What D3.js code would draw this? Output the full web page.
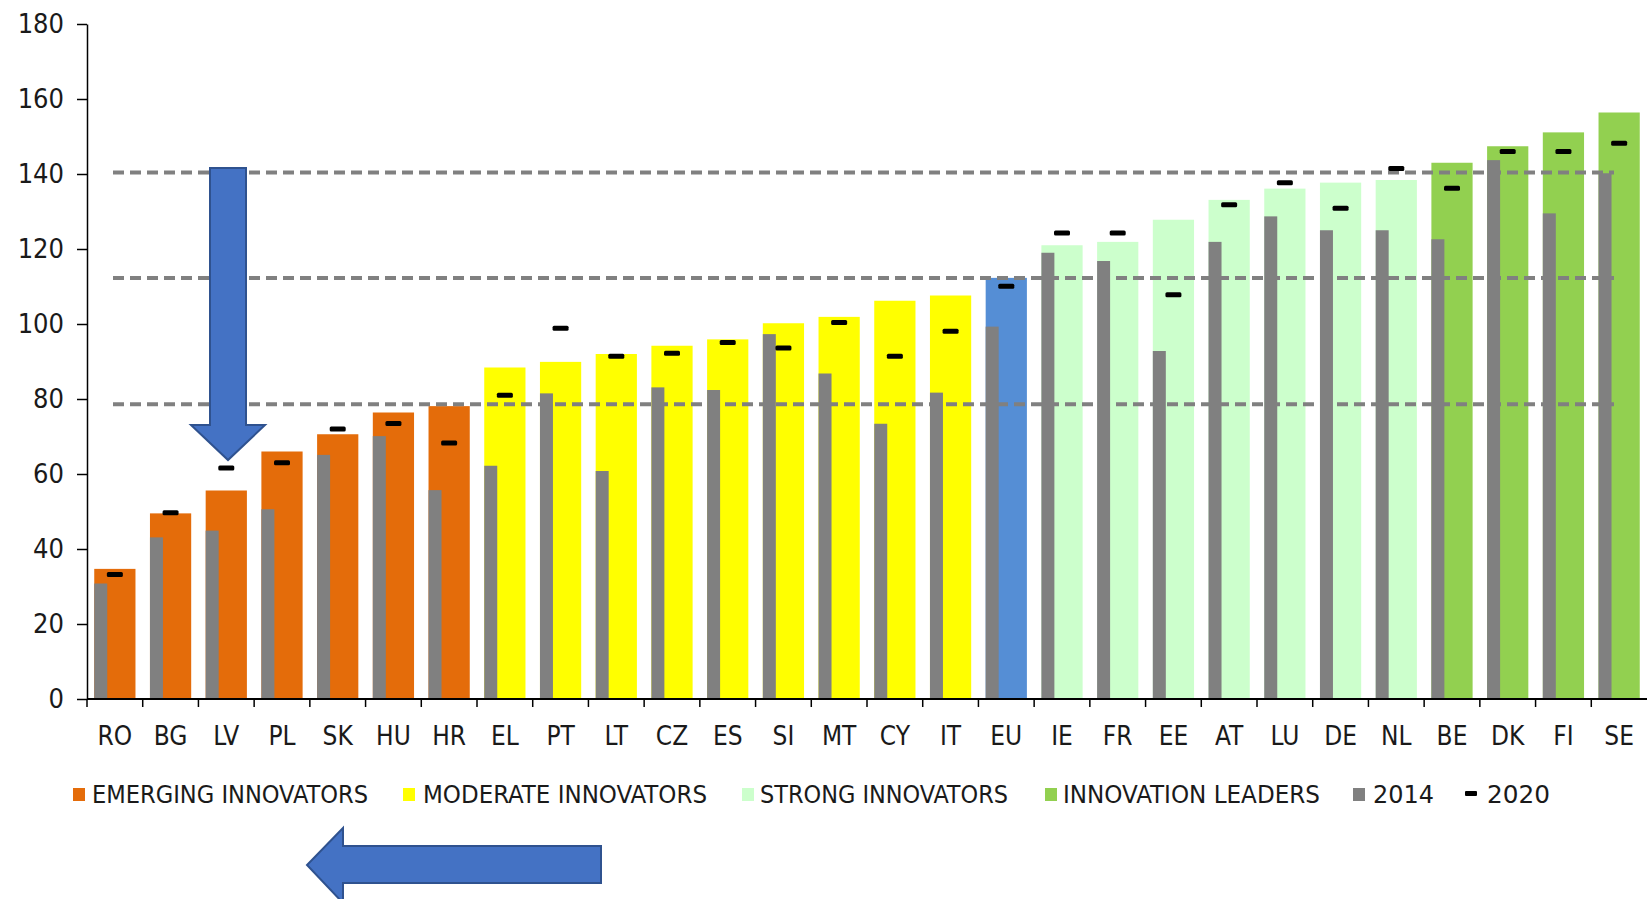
<!DOCTYPE html>
<html lang="en">

<head>
  <meta charset="UTF-8">
  <title>Innovation scores</title>
  <style>
    body { margin: 0; background: #fff; }
    text { font-family: "DejaVu Sans Condensed", "DejaVu Sans", sans-serif; fill: #1a1a1a; }
  </style>
</head>

<body>
  <svg id="svg" width="1647" height="899"></svg>

  <script src="https://d3js.org/d3.v7.min.js"></script>
  <script>
    const countries = ["RO", "BG", "LV", "PL", "SK", "HU", "HR", "EL", "PT", "LT", "CZ", "ES", "SI", "MT",
      "CY", "IT", "EU", "IE", "FR", "EE", "AT", "LU", "DE", "NL", "BE", "DK", "FI", "SE"]
    const groups = ["emerging", "emerging", "emerging", "emerging", "emerging", "emerging", "emerging",
      "moderate", "moderate", "moderate", "moderate", "moderate", "moderate", "moderate", "moderate", "moderate",
      "eu", "strong", "strong", "strong", "strong", "strong", "strong", "strong",
      "leader", "leader", "leader", "leader"]
    const score2021 = [34.7, 49.5, 55.6, 66.0, 70.6, 76.4, 78.1, 88.4, 89.9, 92.0, 94.2, 95.9, 100.2, 101.9,
      106.2, 107.6, 112.3, 121.0, 121.9, 127.8, 133.1, 136.1, 137.7, 138.4, 143.0, 147.4, 151.1, 156.4]
    const score2014 = [30.8, 43.1, 44.9, 50.6, 65.1, 70.1, 55.7, 62.2, 81.5, 60.8, 83.1, 82.4, 97.3, 86.8,
      73.4, 81.7, 99.3, 119.0, 116.8, 92.8, 121.9, 128.7, 125.0, 125.0, 122.6, 143.7, 129.5, 140.2]
    const score2020 = [33.2, 49.7, 61.6, 63.0, 72.0, 73.5, 68.3, 81.0, 98.9, 91.4, 92.2, 95.1, 93.6, 100.4,
      91.4, 98.1, 110.1, 124.3, 124.3, 107.8, 131.8, 137.7, 130.9, 141.5, 136.2, 146.0, 146.0, 148.2]
    const thresholds = [78.6, 112.3, 140.4]
    const yTicks = [0, 20, 40, 60, 80, 100, 120, 140, 160, 180]

    const groupNames = ["emerging", "moderate", "strong", "leader", "eu"]
    const groupColors = ["#e46c0a", "#ffff00", "#ccffcc", "#92d050", "#558ed5"]
    const legendLabels = ["EMERGING INNOVATORS", "MODERATE INNOVATORS", "STRONG INNOVATORS", "INNOVATION LEADERS", "2014", "2020"]

    const data = countries.map((c, i) => ({
      country: c, group: groups[i], v21: score2021[i], v14: score2014[i], v20: score2020[i]
    }))

    const svg = d3.select("#svg")
    const plotLeft = 87, plotRight = 1647, plotTop = 24, plotBottom = 699

    const xScale = d3.scaleBand()
      .domain(countries)
      .range([plotLeft, plotRight])
      .paddingInner(0.26)
      .paddingOuter(0.13)

    const yScale = d3.scaleLinear()
      .domain([0, 180])
      .range([plotBottom, plotTop])

    const colorScale = d3.scaleOrdinal()
      .domain(groupNames)
      .range(groupColors)

    // main bars
    svg.append("g").selectAll("rect")
      .data(data)
      .enter()
      .append("rect")
      .attr("x", d => xScale(d.country))
      .attr("y", d => yScale(d.v21))
      .attr("width", xScale.bandwidth())
      .attr("height", d => yScale(0) - yScale(d.v21))
      .attr("fill", d => colorScale(d.group))

    // 2014 thin bars
    svg.append("g").selectAll("rect")
      .data(data)
      .enter()
      .append("rect")
      .attr("x", d => xScale(d.country))
      .attr("y", d => yScale(d.v14))
      .attr("width", 13)
      .attr("height", d => yScale(0) - yScale(d.v14))
      .attr("fill", "#808080")

    // threshold lines
    svg.append("g").selectAll("line")
      .data(thresholds)
      .enter()
      .append("line")
      .attr("x1", 113)
      .attr("x2", 1614)
      .attr("y1", d => yScale(d))
      .attr("y2", d => yScale(d))
      .attr("stroke", "#808080")
      .attr("stroke-width", 4)
      .attr("stroke-dasharray", "11,6")

    // 2020 markers
    svg.append("g").selectAll("rect")
      .data(data)
      .enter()
      .append("rect")
      .attr("x", d => xScale(d.country) + xScale.bandwidth() / 2 - 8)
      .attr("y", d => yScale(d.v20) - 2.5)
      .attr("width", 16)
      .attr("height", 5)
      .attr("rx", 1.5)
      .attr("fill", "#000")

    // y axis
    const yAxis = svg.append("g")
      .attr("transform", `translate(${plotLeft},0)`)
      .call(d3.axisLeft(yScale).tickValues(yTicks).tickSize(10).tickSizeOuter(0).tickPadding(13))
    yAxis.select(".domain").attr("stroke", "#000").attr("stroke-width", 1.5)
    yAxis.selectAll(".tick line").attr("stroke", "#000").attr("stroke-width", 1.5)
    yAxis.selectAll(".tick text")
      .style("font-size", "27px")
      .style("font-family", "'DejaVu Sans Condensed', sans-serif")
      .attr("fill", "#1a1a1a")

    // x axis
    const xg = svg.append("g")
    xg.append("line")
      .attr("x1", plotLeft).attr("x2", plotRight)
      .attr("y1", plotBottom).attr("y2", plotBottom)
      .attr("stroke", "#000").attr("stroke-width", 2)
    const step = xScale.step()
    xg.selectAll(".xt")
      .data(countries)
      .enter()
      .append("line")
      .attr("x1", d => xScale(d) - xScale.paddingOuter() * step)
      .attr("x2", d => xScale(d) - xScale.paddingOuter() * step)
      .attr("y1", plotBottom)
      .attr("y2", plotBottom + 8)
      .attr("stroke", "#000")
      .attr("stroke-width", 1.5)
    xg.selectAll("text")
      .data(countries)
      .enter()
      .append("text")
      .attr("x", d => xScale(d) + xScale.bandwidth() / 2)
      .attr("y", 745)
      .attr("text-anchor", "middle")
      .style("font-size", "26px")
      .text(d => d)

    // legend
    const legendX = [73, 403, 742, 1045, 1353, 1465]
    const legendTextX = [92, 423, 760, 1063, 1373, 1487]
    const legendTextW = [276, 284, 248, 257, 61, 63]
    const legendFill = [...groupColors.slice(0, 4), "#808080", "#000"]
    const lg = svg.append("g")
    legendLabels.forEach((label, i) => {
      if (i < 5) {
        lg.append("rect")
          .attr("x", legendX[i]).attr("y", 788)
          .attr("width", 12).attr("height", 13)
          .attr("fill", legendFill[i])
      } else {
        lg.append("rect")
          .attr("x", legendX[i]).attr("y", 791)
          .attr("width", 12).attr("height", 5)
          .attr("rx", 1)
          .attr("fill", legendFill[i])
      }
      lg.append("text")
        .attr("x", legendTextX[i])
        .attr("y", 803)
        .attr("textLength", legendTextW[i])
        .attr("lengthAdjust", "spacingAndGlyphs")
        .style("font-size", "25px")
        .text(label)
    })

    // arrows
    const arrowDown = [[210, 168], [246, 168], [246, 425], [265, 425], [228, 460], [191, 425], [210, 425]]
    const arrowLeft = [[601, 846], [601, 883], [343, 883], [343, 903], [307, 865], [343, 828], [343, 846]]
    svg.append("g").selectAll("path")
      .data([arrowDown, arrowLeft])
      .enter()
      .append("path")
      .attr("d", d => d3.line()(d) + "Z")
      .attr("fill", "#4472c4")
      .attr("stroke", "#2f528f")
      .attr("stroke-width", 2)
  </script>
</body>

</html>
